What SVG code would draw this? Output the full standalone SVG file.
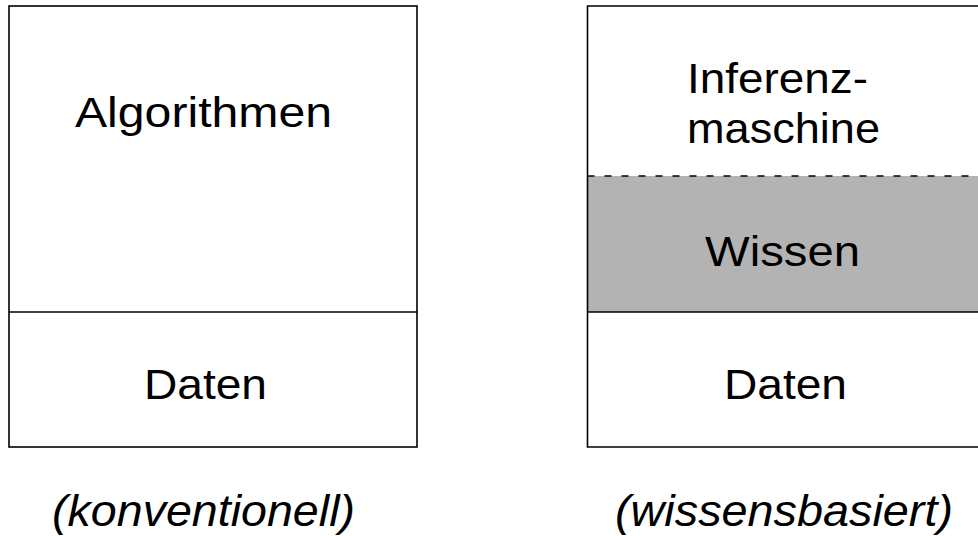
<svg xmlns="http://www.w3.org/2000/svg" width="978" height="536" viewBox="0 0 978 536">
<style>
.ln{stroke:#000;stroke-width:1.6;fill:none}
.t{font-family:"Liberation Sans",Arial,sans-serif;font-size:43px;fill:#000}
.lbl{font-family:"Liberation Sans",Arial,sans-serif;font-size:44px;font-style:italic;fill:#000}
</style>
<rect width="978" height="536" fill="#fff"/>
<g id="konventionell">
<rect class="ln" x="9" y="6" width="408" height="441"/>
<line class="ln" x1="9" y1="312" x2="417" y2="312"/>
<text class="t" x="75" y="127" textLength="257" lengthAdjust="spacingAndGlyphs">Algorithmen</text>
<text class="t" x="144" y="399" textLength="123" lengthAdjust="spacingAndGlyphs">Daten</text>
<text class="lbl" x="52" y="526" textLength="303" lengthAdjust="spacingAndGlyphs">(konventionell)</text>
</g>
<g id="wissensbasiert">
<rect x="588" y="176" width="390" height="136" fill="#b3b3b3"/>
<path class="ln" d="M978 6H587.5V447H978"/>
<line class="ln" x1="587.5" y1="312" x2="978" y2="312"/>
<line class="ln" x1="587.5" y1="176" x2="978" y2="176" stroke-dasharray="7 10"/>
<text class="t" x="687" y="93" textLength="181" lengthAdjust="spacingAndGlyphs">Inferenz-</text>
<text class="t" x="687" y="143" textLength="193" lengthAdjust="spacingAndGlyphs">maschine</text>
<text class="t" x="705" y="266" textLength="155" lengthAdjust="spacingAndGlyphs">Wissen</text>
<text class="t" x="724" y="399" textLength="123" lengthAdjust="spacingAndGlyphs">Daten</text>
<text class="lbl" x="615" y="526" textLength="338" lengthAdjust="spacingAndGlyphs">(wissensbasiert)</text>
</g>
<g id="connectors"></g>
</svg>
